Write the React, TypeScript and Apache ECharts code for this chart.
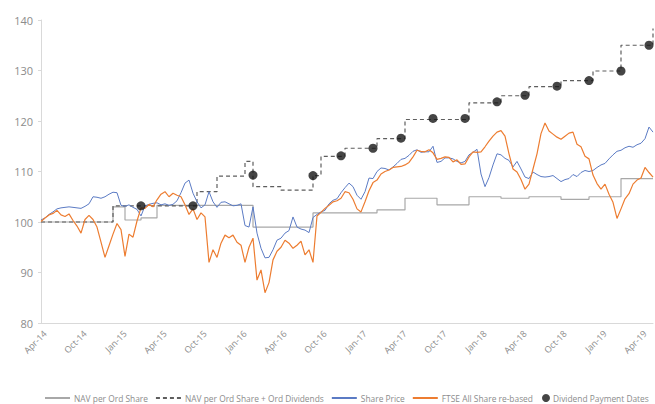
import { useEffect, useRef } from 'react';
import * as echarts from 'echarts';

// Axis tick labels, one every ten observations
const tickLabels = [
  'Apr-14', 'Oct-14', 'Jan-15', 'Apr-15', 'Oct-15', 'Jan-16', 'Apr-16', 'Oct-16',
  'Jan-17', 'Apr-17', 'Oct-17', 'Jan-18', 'Apr-18', 'Oct-18', 'Jan-19', 'Apr-19',
];

// Share price, re-based to 100
const sharePrice = [
  100.4, 100.8, 101.5, 102.0, 102.6, 102.8, 102.9, 103.0, 102.9, 102.8,
  102.7, 103.1, 103.6, 105.0, 104.9, 104.7, 105.0, 105.5, 105.9, 105.8,
  103.3, 103.1, 103.4, 102.9, 102.5, 101.2, 103.2, 103.5, 103.7, 103.8,
  103.4, 103.6, 103.3, 103.5, 104.2, 105.8, 107.7, 108.3, 105.7, 104.0,
  102.8, 103.4, 106.0, 104.0, 102.9, 103.9, 104.0, 103.6, 103.2, 103.3,
  103.6, 99.3, 99.0, 103.0, 97.8, 94.8, 92.9, 93.0, 94.5, 96.4,
  96.8, 97.8, 98.3, 101.0, 99.0, 98.6, 98.4, 97.9, 100.9, 101.5,
  102.0, 102.3, 103.6, 104.3, 104.6, 105.8, 106.8, 107.7, 107.0, 105.3,
  104.5, 106.0, 108.7, 108.6, 110.0, 110.7, 110.6, 110.3, 110.9, 111.6,
  112.4, 112.6, 113.2, 114.0, 114.3, 113.8, 113.9, 113.9, 115.0, 111.8,
  112.0, 112.7, 112.7, 112.5, 112.0, 111.7, 112.0, 113.3, 113.8, 114.4,
  109.5, 107.0, 108.8, 111.3, 113.5, 113.3, 112.6, 112.2, 110.9, 112.0,
  110.5, 108.9, 108.6, 109.9, 109.4, 109.0, 108.9, 109.0, 109.2, 108.6,
  108.0, 108.4, 108.6, 109.4, 109.0, 109.8, 110.2, 110.0, 110.2, 110.8,
  111.3, 111.6, 112.5, 113.3, 114.0, 114.2, 114.7, 115.0, 114.8, 115.3,
  115.6, 116.5, 118.8, 117.8,
];

// FTSE All Share index, re-based to 100
const ftseAllShare = [
  100.1, 100.8, 101.4, 101.7, 102.3, 101.4, 101.1, 101.6, 100.3, 99.2,
  97.8, 100.5, 101.3, 100.5, 99.0, 96.0, 93.0, 95.3, 97.6, 99.7,
  98.5, 93.2, 97.6, 97.0, 100.2, 102.8, 102.7, 103.5, 103.0, 104.4,
  105.5, 106.0, 105.0, 105.7, 105.3, 105.0, 103.4, 101.5, 102.6, 100.5,
  101.8, 101.0, 92.0, 94.5, 93.0, 95.8, 97.4, 96.9, 97.4, 96.0,
  95.4, 92.0, 95.0, 96.8, 88.5, 90.5, 86.0, 88.0, 92.5, 94.2,
  95.0, 96.4, 95.8, 94.8, 95.4, 96.2, 93.5, 94.5, 92.0, 101.2,
  101.9, 102.7, 103.3, 104.0, 104.2, 104.7, 106.0, 105.8, 104.5, 102.6,
  102.0, 104.0, 106.2, 107.8, 108.3, 109.5, 110.0, 110.3, 110.8, 110.9,
  111.0, 111.3, 111.8, 112.9, 114.2, 114.0, 113.9, 114.3, 113.7, 112.4,
  112.6, 112.9, 112.8, 111.9, 112.3, 111.4, 111.5, 112.9, 113.9, 113.8,
  113.9, 114.9, 116.0, 117.0, 117.8, 118.1, 117.0, 113.5, 110.5, 109.9,
  108.4, 106.5, 107.5, 110.5, 113.5, 117.5, 119.6, 118.0, 117.4, 116.8,
  116.4, 117.0, 117.6, 117.8, 115.4, 114.9, 113.0, 112.5, 109.3, 107.6,
  106.5, 107.5, 105.5, 103.9, 100.7, 102.6, 104.6, 105.6, 107.5, 108.3,
  108.7, 110.8, 109.8, 108.9,
];

// NAV per share: [observation index where the value takes effect, value]
const navPerShare = [
  [0, 100.0], [18, 103.0], [21, 100.4], [25, 100.8], [29, 103.3], [53, 99.0],
  [68, 101.8], [84, 102.4], [91, 104.7], [99, 103.4], [107, 105.0], [115, 104.7],
  [122, 105.0], [130, 104.5], [137, 105.0], [145, 108.6], [153, 108.6],
];

// NAV per share plus cumulative ordinary dividends
const navPlusDividends = [
  [0, 100.0], [18, 103.2], [39, 106.0], [44, 109.1], [51, 112.0], [53, 107.0],
  [60, 106.3], [68, 109.2], [70, 113.0], [76, 114.6], [84, 116.5], [91, 120.3],
  [107, 123.6], [115, 125.0], [122, 126.8], [130, 128.0], [138, 129.9],
  [145, 135.0], [153, 138.3],
];

// Dividend payment dates (observation index) and the level marked on each
const dividendPoints = [25, 38, 53, 68, 75, 83, 90, 98, 106, 114, 121, 129, 137, 145, 152];
const dividendValues = [
  103.2, 103.2, 109.3, 109.2, 113.1, 114.6, 116.6, 120.5, 120.5, 123.8,
  125.1, 126.9, 128.0, 129.9, 135.0,
];

const categories = sharePrice.map((_, i) => (i % 10 === 1 ? tickLabels[(i - 1) / 10] : ''));

const FONT = 'Open Sans';
const TEXT = '#8c8c8c';
const AXIS = '#d9d9d9';

// line-only legend entries: hide the marker drawn in the middle of the line icon
const lineEntry = (name: string) => ({ name, itemStyle: { opacity: 0 } });
const legendText = { color: TEXT, fontSize: 8.4, fontFamily: FONT };

export default function App() {
  const ref = useRef<HTMLDivElement>(null);

  useEffect(() => {
    if (!ref.current) return;
    const chart = echarts.init(ref.current, undefined, { renderer: 'svg' });
    chart.setOption({
      animation: false,
      backgroundColor: '#ffffff',
      textStyle: { fontFamily: FONT },
      grid: { left: 41, right: 2, top: 20, bottom: 81 },
      xAxis: {
        type: 'category',
        data: categories,
        boundaryGap: false,
        axisLine: { lineStyle: { color: AXIS } },
        axisTick: { show: false },
        axisLabel: {
          interval: (idx: number) => idx % 10 === 1,
          rotate: 45,
          color: TEXT,
          fontSize: 9,
          fontFamily: FONT,
          margin: 9,
        },
        splitLine: { show: false },
      },
      yAxis: {
        type: 'value',
        min: 80,
        max: 140,
        interval: 10,
        axisLine: { show: true, lineStyle: { color: AXIS } },
        axisTick: { show: true, length: 3, lineStyle: { color: AXIS } },
        axisLabel: { color: TEXT, fontSize: 11, fontFamily: FONT, margin: 8 },
        splitLine: { show: false },
      },
      legend: [
        {
          left: 44,
          top: 394,
          padding: 0,
          itemWidth: 25,
          itemHeight: 8,
          itemGap: 7,
          textStyle: { ...legendText, padding: [0, 0, 0, -1] },
          data: [
            lineEntry('NAV per Ord Share'),
            lineEntry('NAV per Ord Share + Ord Dividends'),
            lineEntry('Share Price'),
            lineEntry('FTSE All Share re-based'),
          ],
        },
        {
          left: 542,
          top: 394,
          padding: 0,
          itemWidth: 10,
          itemHeight: 8,
          textStyle: { ...legendText, padding: [0, 0, 0, -3] },
          data: [{ name: 'Dividend Payment Dates', icon: 'circle' }],
        },
      ],
      series: [
        {
          name: 'NAV per Ord Share',
          type: 'line',
          step: 'end',
          data: navPerShare,
          symbol: 'none',
          lineStyle: { color: '#a8a8a8', width: 1.2 },
          itemStyle: { color: '#a8a8a8' },
        },
        {
          name: 'NAV per Ord Share + Ord Dividends',
          type: 'line',
          step: 'end',
          data: navPlusDividends,
          symbol: 'none',
          lineStyle: { color: '#5e5e5e', width: 1.2, type: [4, 3] },
          itemStyle: { color: '#5e5e5e' },
        },
        {
          name: 'Share Price',
          type: 'line',
          data: sharePrice,
          symbol: 'none',
          lineStyle: { color: '#5b7bc4', width: 1 },
          itemStyle: { color: '#5b7bc4' },
        },
        {
          name: 'FTSE All Share re-based',
          type: 'line',
          data: ftseAllShare,
          symbol: 'none',
          lineStyle: { color: '#ed7d31', width: 1.2 },
          itemStyle: { color: '#ed7d31' },
        },
        {
          name: 'Dividend Payment Dates',
          type: 'scatter',
          data: dividendPoints.map((p, k) => [p, dividendValues[k]]),
          symbolSize: 9,
          itemStyle: { color: '#161616' },
          z: 5,
        },
      ],
    });
    return () => chart.dispose();
  }, []);

  return (
    <div
      ref={ref}
      style={{ position: 'fixed', left: 0, top: 0, width: 655, height: 404, background: '#fff' }}
    />
  );
}
